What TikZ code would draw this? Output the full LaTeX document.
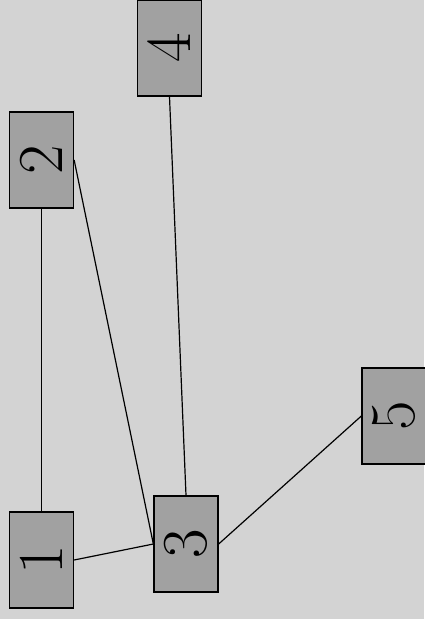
\documentclass[tikz,border=0pt]{standalone}
\usepackage{fontspec}
\usepackage{xcolor}
\usetikzlibrary{positioning}

\definecolor{canvas}{RGB}{211,211,211}
\definecolor{boxgray}{RGB}{161,161,161}

\tikzset{
	vertex/.style={draw=black, fill=boxgray, line width=1.3pt, minimum width=64pt,
		minimum height=96pt, inner sep=0pt, font=\fontsize{64}{64}\selectfont},
	link/.style={draw=black, line width=1.2pt}
}

\begin{document}
\begin{tikzpicture}[x=1pt, y=-1pt]
				\fill[canvas] (0,0) rectangle (424,619);
				\useasboundingbox (0,0) rectangle (424,619);
				
				\node[vertex] (v1) at (41.5,560) {\rotatebox{90}{1}};
				\node[vertex] (v2) at (41.5,160) {\rotatebox{90}{2}};
				\node[vertex] (v3) at (186,544) {\rotatebox{90}{3}};
				\node[vertex] (v4) at (169.5,48) {\rotatebox{90}{4}};
				\node[vertex] (v5) at (394,416) {\rotatebox{90}{5}};
				
				\draw[link] (v1.north) -- (v2.south);
				\draw[link] (v1.east) -- (v3.west);
				\draw[link] (v2.east) -- (v3.west);
				\draw[link] (v4.south) -- (v3.north);
				\draw[link] (v3.east) -- (v5.west);
			\end{tikzpicture}
\end{document}
